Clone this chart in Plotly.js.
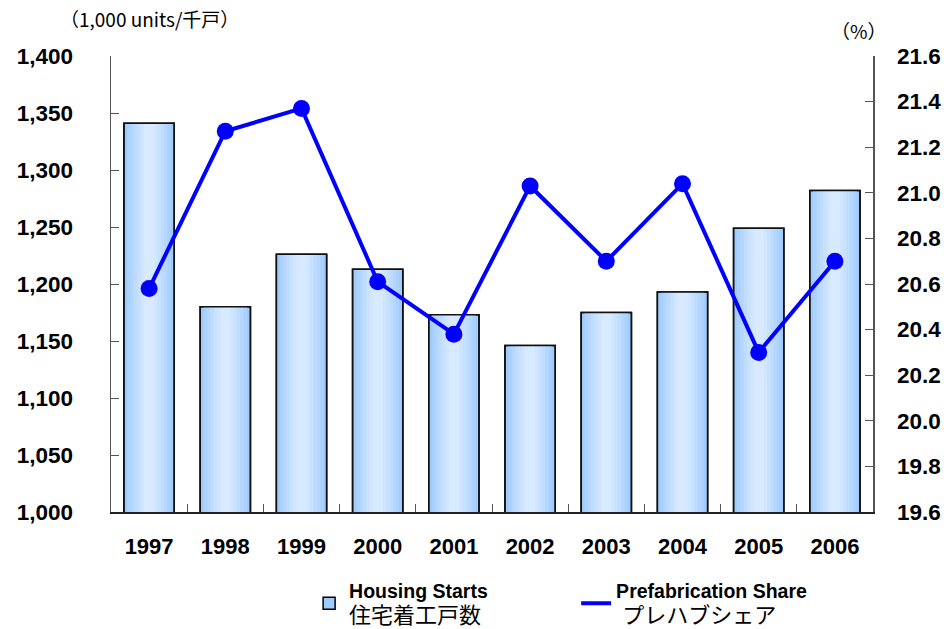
<!DOCTYPE html>
<html>
<head>
<meta charset="utf-8">
<script src="https://cdn.plot.ly/plotly-3.0.1.min.js"></script>
<style>
html,body{margin:0;padding:0;background:#fff;}
#chart{width:944px;height:629px;}
</style>
</head>
<body>
<div id="chart"></div>
<script>
// ---- data ----
var years = ['1997','1998','1999','2000','2001','2002','2003','2004','2005','2006'];
var housingStarts = [1341, 1180, 1226, 1213, 1173, 1146, 1175, 1193, 1249, 1282];
var prefabShare = [20.58, 21.27, 21.37, 20.61, 20.38, 21.03, 20.70, 21.04, 20.30, 20.70];
var leftTicks = [1000,1050,1100,1150,1200,1250,1300,1350,1400];
var rightTicks = [19.6,19.8,20.0,20.2,20.4,20.6,20.8,21.0,21.2,21.4,21.6];
var barName = '<b>Housing Starts</b><br><span style="font-size:22px">住宅着工戸数</span>';
var lineName = '<b>Prefabrication Share</b><br><span style="font-size:22px"> プレハブシェア</span>';

var FONT = 'Liberation Sans, Arial, Noto Sans CJK JP, sans-serif';
var BW = 0.66;

var traces = [];
// legend bar (outer layer)
traces.push({
  type:'bar', x:years, y:housingStarts, name:barName, width:BW,
  marker:{color:'#a0cbff', line:{color:'#000', width:1.5}},
  hoverinfo:'skip', legendrank:1
});
// gradient layers
var layerColors = ['#aad1ff','#b4d6ff','#bedcff','#c8e1ff','#d0e6ff','#d8eaff'];
for (var i=0;i<layerColors.length;i++){
  var w = BW*(1 - (i+1)/(layerColors.length+1.5));
  traces.push({
    type:'bar', x:years, y:housingStarts, width:w, showlegend:false,
    marker:{color:layerColors[i], line:{width:0}}, hoverinfo:'skip'
  });
}
// outline on top
traces.push({
  type:'bar', x:years, y:housingStarts, width:BW, showlegend:false,
  marker:{color:'rgba(0,0,0,0)', line:{color:'#111', width:1.5}}, hoverinfo:'skip'
});
// line
traces.push({
  type:'scatter', mode:'lines+markers', x:years, y:prefabShare, yaxis:'y2',
  showlegend:false, line:{color:'#0000ff', width:4}, marker:{color:'#0000ff', size:17}
});
// legend-only line entry
traces.push({
  type:'scatter', mode:'lines', x:[years[0]], y:[null], yaxis:'y2', name:lineName,
  line:{color:'#0000ff', width:4}, legendrank:2
});

var layout = {
  width:944, height:629,
  margin:{l:111, r:71, t:56, b:117, autoexpand:false},
  paper_bgcolor:'#fff', plot_bgcolor:'#fff',
  barmode:'overlay',
  font:{family:FONT, color:'#000'},
  showlegend:true,
  legend:{
    orientation:'h', x:0.26, xanchor:'left', y:-0.13, yanchor:'top',
    font:{family:FONT, size:19.5, color:'#000'},
    entrywidth:222, entrywidthmode:'pixels',
    bgcolor:'rgba(0,0,0,0)', traceorder:'normal'
  },
  xaxis:{
    type:'category', showgrid:false, showline:true, linecolor:'#222', linewidth:1.5,
    ticks:'inside', tickson:'boundaries', ticklen:8, tickcolor:'#555',
    tickfont:{family:FONT, size:22, weight:'bold'}, ticklabelstandoff:14,
    range:[-0.5, 9.5], zeroline:false, automargin:false
  },
  yaxis:{
    range:[1000,1400], tickvals:leftTicks, tickformat:',', showgrid:false,
    showline:true, linecolor:'#555', linewidth:1.5,
    ticks:'inside', ticklen:8, tickcolor:'#555',
    tickfont:{family:FONT, size:22.5, weight:'bold'}, ticklabelstandoff:32, zeroline:false, automargin:false
  },
  yaxis2:{
    overlaying:'y', side:'right', range:[19.6,21.6], tickvals:rightTicks, tickformat:'.1f',
    showgrid:false, showline:true, linecolor:'#555', linewidth:1.5,
    ticks:'inside', ticklen:8, tickcolor:'#555',
    tickfont:{family:FONT, size:22.5, weight:'bold'}, ticklabelstandoff:18, zeroline:false, automargin:false
  },
  annotations:[
    {text:'（1,000 units/千戸）', xref:'paper', yref:'paper', x:0.05, y:1.0, xanchor:'center', yanchor:'middle',
     yshift:38, showarrow:false, font:{family:'Noto Sans CJK JP, sans-serif', size:19, color:'#000'}},
    {text:'（%）', xref:'paper', yref:'paper', x:0.982, y:1.0, xanchor:'center', yanchor:'middle',
     yshift:26, showarrow:false, font:{family:'Noto Sans CJK JP, sans-serif', size:19, color:'#000'}}
  ]
};

Plotly.newPlot('chart', traces, layout, {displayModeBar:false, staticPlot:true});
</script>
</body>
</html>
